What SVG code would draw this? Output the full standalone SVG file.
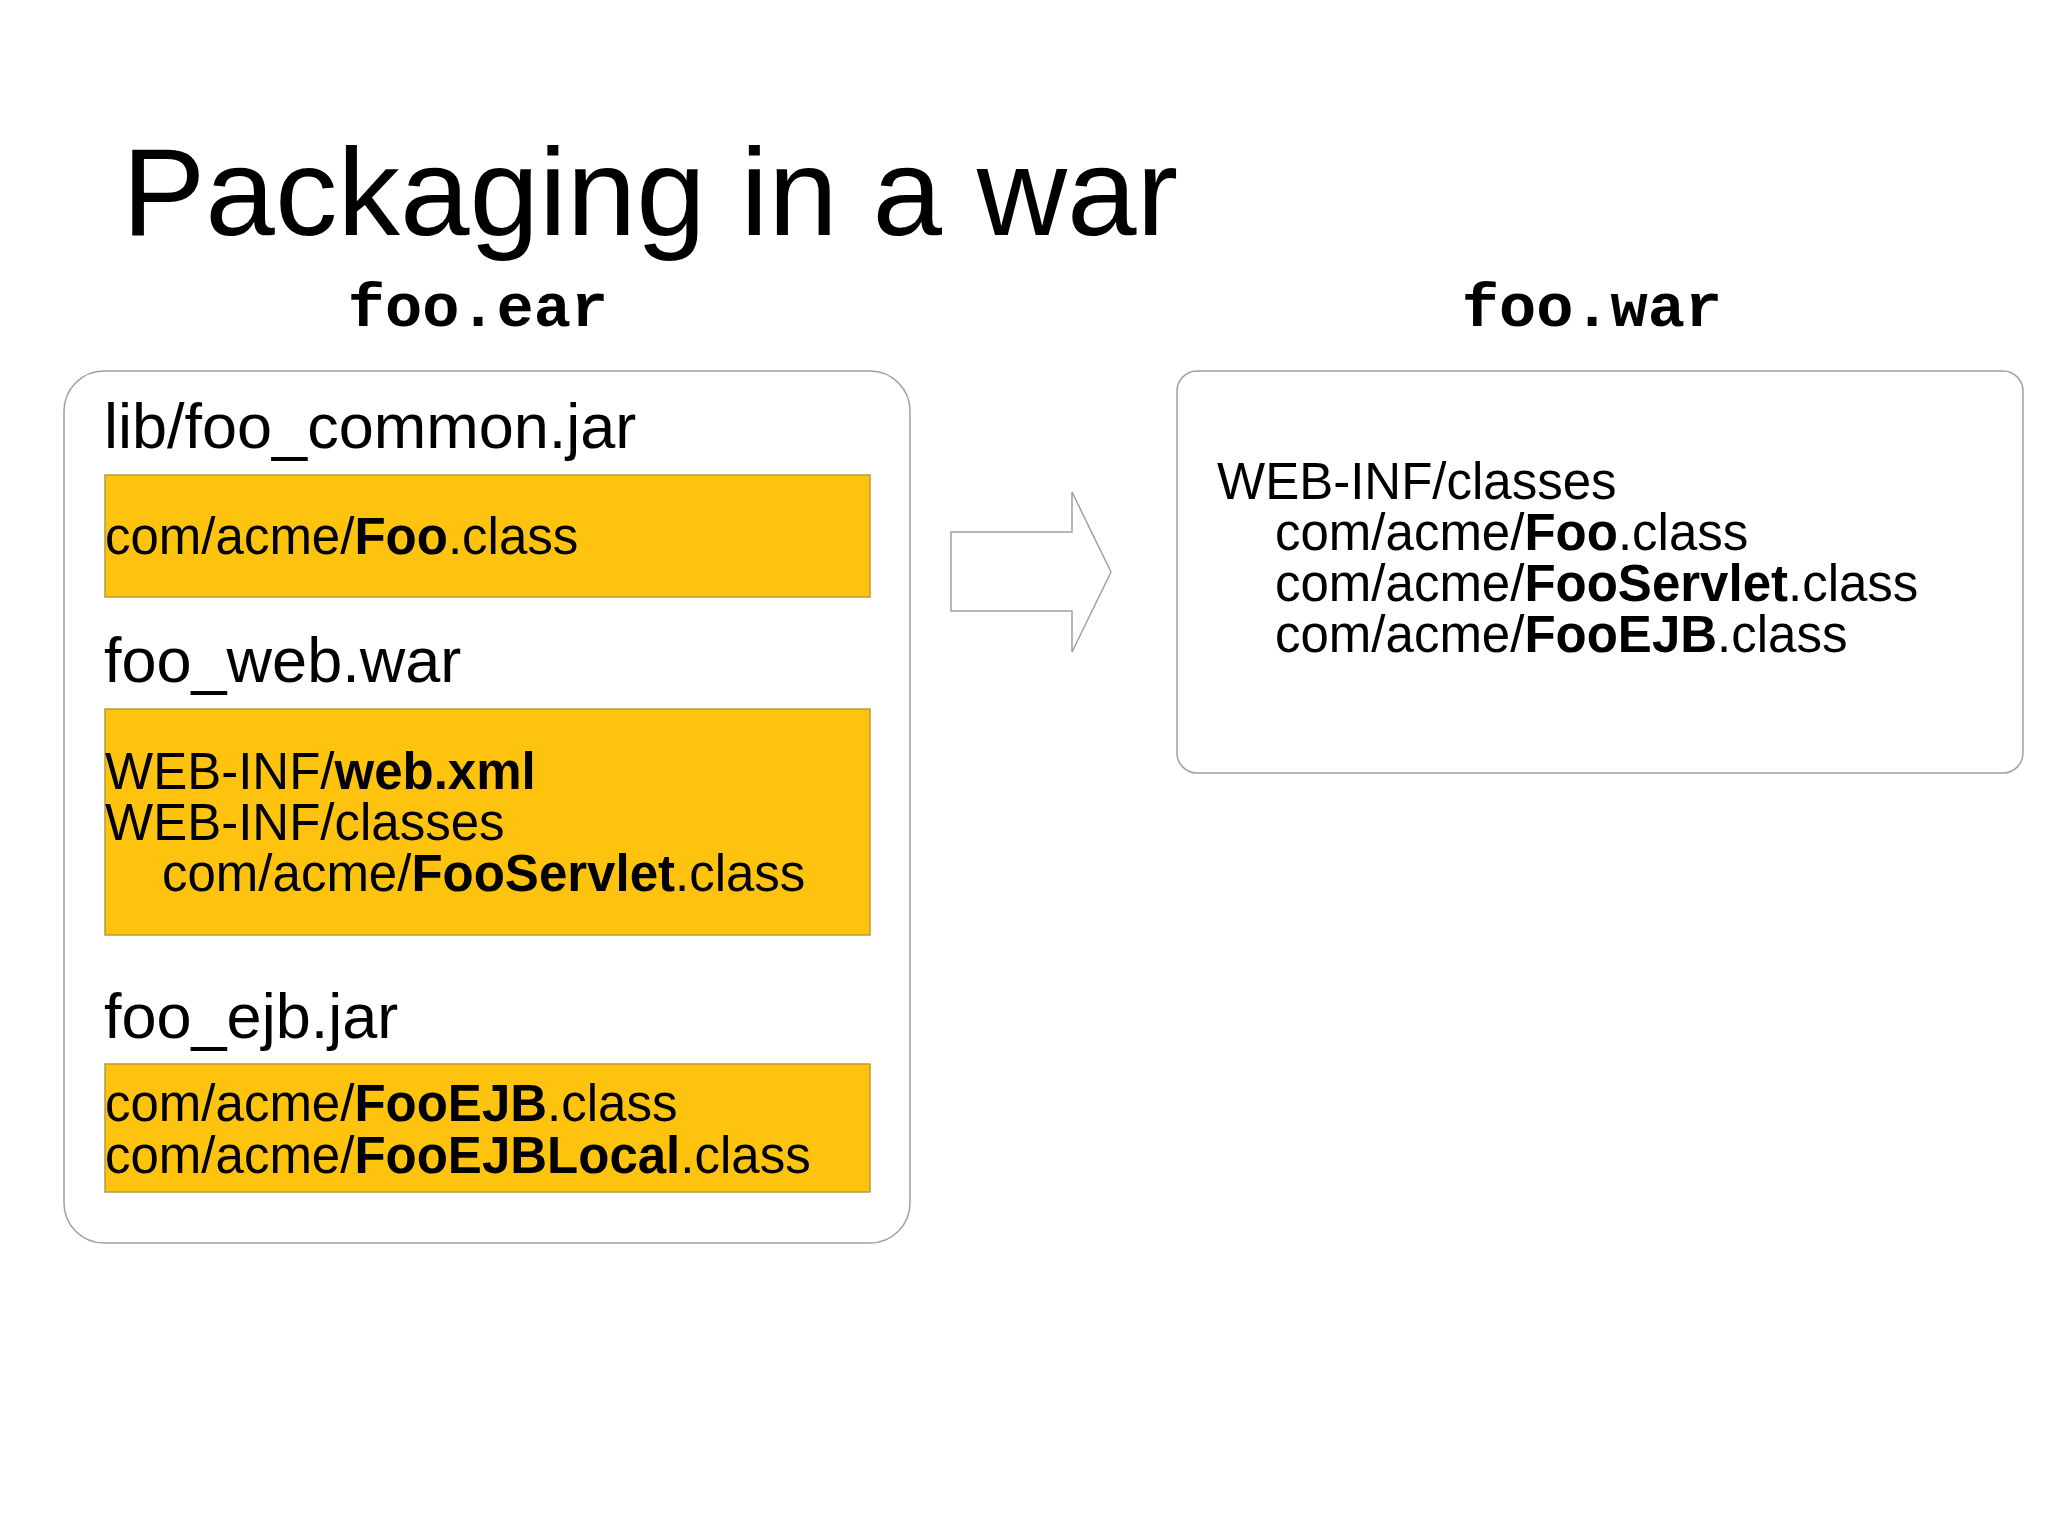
<svg xmlns="http://www.w3.org/2000/svg" width="2048" height="1536" viewBox="0 0 2048 1536">
<style>
.t{font-family:"Liberation Sans",Arial,sans-serif;fill:#000}
.m{font-family:"Liberation Mono","Courier New",monospace;font-weight:bold;fill:#000;font-size:62px}
.b{font-weight:bold}
.box{fill:#fff;stroke:#a0a0a0;stroke-width:1.5}
.y{fill:#fdc30f;stroke:#b89a3a;stroke-width:1.5}
.s{font-size:63px}
.l{font-size:51px}
</style>
<rect width="2048" height="1536" fill="#fff"/>
<text class="t" x="122" y="235" font-size="125">Packaging in a war</text>
<text class="m" x="478" y="326" text-anchor="middle">foo.ear</text>
<text class="m" x="1592" y="326" text-anchor="middle">foo.war</text>
<g id="ear">
<rect class="box" x="64" y="371" width="846" height="872" rx="40"/>
<text class="t s" x="104" y="448">lib/foo_common.jar</text>
<rect class="y" x="105" y="475" width="765" height="122"/>
<text class="t l" x="105" y="554">com/acme/<tspan class="b">Foo</tspan>.class</text>
<text class="t s" x="104" y="682">foo_web.war</text>
<rect class="y" x="105" y="709" width="765" height="226"/>
<text class="t l" x="105" y="789">WEB-INF/<tspan class="b">web.xml</tspan></text>
<text class="t l" x="105" y="840">WEB-INF/classes</text>
<text class="t l" x="162" y="891">com/acme/<tspan class="b">FooServlet</tspan>.class</text>
<text class="t s" x="104" y="1038">foo_ejb.jar</text>
<rect class="y" x="105" y="1064" width="765" height="128"/>
<text class="t l" x="105" y="1121">com/acme/<tspan class="b">FooEJB</tspan>.class</text>
<text class="t l" x="105" y="1173">com/acme/<tspan class="b">FooEJBLocal</tspan>.class</text>
</g>
<g id="connectors">
<path class="box" d="M951 532 H1072 V492 L1111 572 L1072 652 V611 H951 Z"/>
</g>
<g id="war">
<rect class="box" x="1177" y="371" width="846" height="402" rx="20"/>
<text class="t l" x="1217" y="499">WEB-INF/classes</text>
<text class="t l" x="1275" y="550">com/acme/<tspan class="b">Foo</tspan>.class</text>
<text class="t l" x="1275" y="601">com/acme/<tspan class="b">FooServlet</tspan>.class</text>
<text class="t l" x="1275" y="652">com/acme/<tspan class="b">FooEJB</tspan>.class</text>
</g>
</svg>
